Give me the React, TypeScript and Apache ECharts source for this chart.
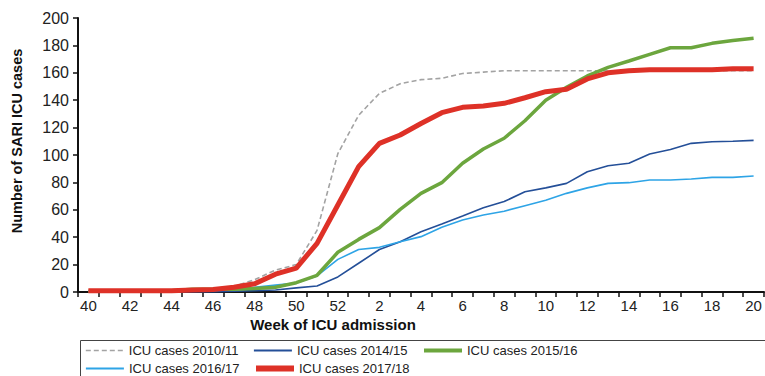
import React, { useEffect, useRef } from "react";
import * as echarts from "echarts";

const weeks: string[] = [
  "40", "41", "42", "43", "44", "45", "46", "47", "48", "49", "50", "51", "52",
  "1", "2", "3", "4", "5", "6", "7", "8", "9", "10", "11", "12", "13", "14", "15", "16", "17", "18", "19", "20",
];

const yTicks = { min: 0, max: 200, interval: 20 };

const cases201011: number[] = [
  0.5, 0.5, 0.5, 0.5, 1, 1, 1.5, 4, 9, 16, 20, 45, 101,
  129, 145, 152, 155, 156, 159.5, 160.5, 161.5, 161.5, 161.5, 161.5, 161.5, 161.5, 161.5, 161.5, 161.5, 161.5, 161.5, 161.5, 161.5,
];
const cases201415: number[] = [
  0, 0, 0, 0, 0, 0, 0, 0.5, 1, 1.5, 3, 4.4, 11,
  21, 31, 36.7, 44, 49.6, 55.5, 61.5, 66, 73.2, 76, 79.3, 87.8, 92.2, 94, 100.7, 104, 108.5, 109.7, 110, 110.7,
];
const cases201516: number[] = [
  0.5, 0.5, 0.5, 1, 1, 2, 2, 2, 2.5, 3.5, 6.8, 12.2, 29,
  38.4, 47, 60.3, 72, 79.8, 94, 104.4, 112.2, 125, 140, 149.4, 157.7, 164, 168.6, 173.5, 178.3, 178.3, 181.5, 183.5, 185.2,
];
const cases201617: number[] = [
  0.5, 0.5, 0.5, 0.5, 0.5, 1, 1, 2, 3.5, 5, 6.5, 11.7, 23.8,
  31, 32.6, 36.7, 40.4, 47.2, 52.5, 56.2, 59, 63, 67, 72, 76, 79.3, 79.8, 81.8, 81.8, 82.5, 83.7, 83.7, 84.7,
];
const cases201718: number[] = [
  1, 1, 1, 1, 1, 1.5, 1.8, 3.5, 6, 13, 17.5, 35.5, 63.5,
  91.5, 108.5, 114.6, 123, 130.9, 134.8, 135.8, 137.7, 141.8, 146.2, 148, 155.5, 160, 161.5, 162.3, 162.3, 162.3, 162.3, 163, 163,
];

const seriesNames: string[] = [
  "ICU cases 2010/11",
  "ICU cases 2014/15",
  "ICU cases 2015/16",
  "ICU cases 2016/17",
  "ICU cases 2017/18",
];

const FONT = "'Liberation Sans', Arial, Helvetica, sans-serif";

export default function App() {
  const ref = useRef<HTMLDivElement>(null);

  useEffect(() => {
    document.body.style.margin = "0";
    if (!ref.current) return;
    const chart = echarts.init(ref.current, undefined, { renderer: "svg" });

    const mkLegend = (name: string, left: number, top: number, width: number) => ({
      show: true,
      data: [name],
      left,
      top,
      padding: 0,
      itemWidth: 38,
      itemHeight: 14,
      itemGap: 0,
      selectedMode: false,
      itemStyle: { opacity: 0 },
      lineStyle: { width },
      textStyle: { fontFamily: FONT, fontSize: 13, color: "#222" },
    });

    chart.setOption({
      animation: false,
      backgroundColor: "#ffffff",
      textStyle: { fontFamily: FONT },
      grid: {
        left: 78,
        top: 18,
        right: 1,
        bottom: 84,
        outerBoundsMode: "none",
        containLabel: false,
      },
      legend: [
        mkLegend(seriesNames[0], 85, 344, 1.6),
        mkLegend(seriesNames[1], 253, 344, 1.8),
        mkLegend(seriesNames[2], 422, 344, 4),
        mkLegend(seriesNames[3], 85, 362, 1.8),
        mkLegend(seriesNames[4], 253, 362, 6),
      ],
      xAxis: {
        type: "category",
        data: weeks,
        boundaryGap: true,
        axisLine: { show: true, lineStyle: { color: "#111", width: 2 } },
        axisTick: { show: true, interval: 0, length: 5, inside: false, lineStyle: { color: "#111", width: 1.5 } },
        axisLabel: { interval: 1, margin: 6, fontFamily: FONT, fontSize: 15, color: "#222" },
        splitLine: { show: false },
      },
      yAxis: {
        type: "value",
        min: yTicks.min,
        max: yTicks.max,
        interval: yTicks.interval,
        axisLine: { show: true, lineStyle: { color: "#111", width: 2 } },
        axisTick: { show: true, length: 5, inside: false, lineStyle: { color: "#111", width: 1.5 } },
        axisLabel: { margin: 9, fontFamily: FONT, fontSize: 16, color: "#222" },
        splitLine: { show: false },
      },
      graphic: [
        {
          type: "text",
          x: 17,
          y: 141,
          rotation: Math.PI / 2,
          style: {
            text: "Number of SARI ICU cases",
            fontFamily: FONT,
            fontSize: 14.5,
            fontWeight: "bold",
            fill: "#111",
            textAlign: "center",
            textVerticalAlign: "middle",
          },
        },
        {
          type: "text",
          x: 333,
          y: 324,
          style: {
            text: "Week of ICU admission",
            fontFamily: FONT,
            fontSize: 15,
            fontWeight: "bold",
            fill: "#111",
            textAlign: "center",
            textVerticalAlign: "middle",
          },
        },
        {
          type: "rect",
          shape: { x: 80.5, y: 340.5, width: 700, height: 60 },
          style: { fill: "none", stroke: "#444", lineWidth: 1 },
          z: -1,
        },
      ],
      series: [
        {
          name: seriesNames[0],
          type: "line",
          data: cases201011,
          symbol: "none",
          lineStyle: { color: "#a3a3a3", width: 1.6, type: [5, 3] },
          itemStyle: { color: "#a3a3a3" },
          z: 2,
        },
        {
          name: seriesNames[1],
          type: "line",
          data: cases201415,
          symbol: "none",
          lineStyle: { color: "#244f98", width: 1.6 },
          itemStyle: { color: "#244f98" },
          z: 3,
        },
        {
          name: seriesNames[2],
          type: "line",
          data: cases201516,
          symbol: "none",
          lineStyle: { color: "#6ca63e", width: 3.5 },
          itemStyle: { color: "#6ca63e" },
          z: 5,
        },
        {
          name: seriesNames[3],
          type: "line",
          data: cases201617,
          symbol: "none",
          lineStyle: { color: "#2ea4e6", width: 1.6 },
          itemStyle: { color: "#2ea4e6" },
          z: 4,
        },
        {
          name: seriesNames[4],
          type: "line",
          data: cases201718,
          symbol: "none",
          lineStyle: { color: "#de3127", width: 5 },
          itemStyle: { color: "#de3127" },
          z: 6,
        },
      ],
    });

    return () => {
      chart.dispose();
    };
  }, []);

  return <div ref={ref} style={{ width: 765, height: 376 }} />;
}
